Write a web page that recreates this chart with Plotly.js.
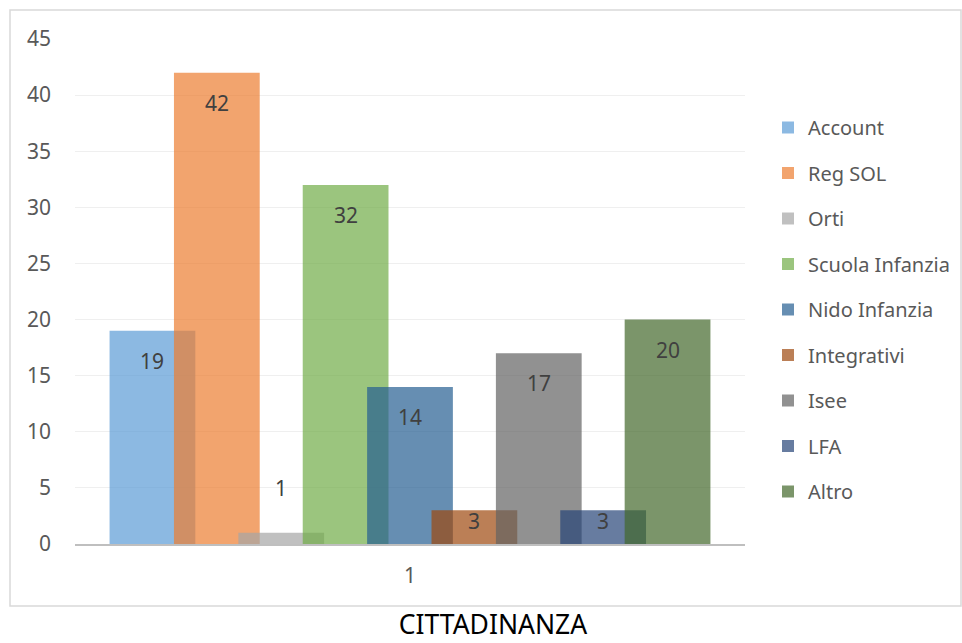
<!DOCTYPE html>
<html>
<head>
<meta charset="utf-8">
<script src="https://cdn.plot.ly/plotly-3.0.1.min.js"></script>
<style>html,body{margin:0;padding:0;background:#fff}#chart{width:962px;height:643px}</style>
</head>
<body>
<div id="chart"></div>
<script>
// Data
const category = ['1'];
const seriesNames = ['Account', 'Reg SOL', 'Orti', 'Scuola Infanzia', 'Nido Infanzia', 'Integrativi', 'Isee', 'LFA', 'Altro'];
const seriesValues = [19, 42, 1, 32, 14, 3, 17, 3, 20];
const chartTitle = 'CITTADINANZA';

// Styles
const colors = [
  'rgba(91,155,213,0.7)', 'rgba(237,125,49,0.7)', 'rgba(165,165,165,0.7)',
  'rgba(112,173,71,0.7)', 'rgba(37,94,145,0.7)', 'rgba(158,72,14,0.7)',
  'rgba(99,99,99,0.7)', 'rgba(38,68,120,0.7)', 'rgba(67,104,43,0.7)'
];
const barWidth = 0.128;
const barStep = 0.0961;
const FONT = 'Noto Sans, Open Sans, sans-serif';
const yMax = 45;
const plotHeightPx = 505;

const n = seriesNames.length;
const centerOf = i => (i - (n - 1) / 2) * barStep;

const traces = seriesNames.map((name, i) => ({
  type: 'bar',
  name: name,
  legendgroup: 'g' + i,
  x: category,
  y: [seriesValues[i]],
  width: barWidth,
  offset: centerOf(i) - barWidth / 2,
  marker: {color: colors[i], line: {width: 0}},
  hoverinfo: 'name+y'
}));

// data labels ("inside end", moved above the bar when it is too short)
const annotations = seriesValues.map((v, i) => {
  const barPx = v * plotHeightPx / yMax;
  const inside = barPx - 25 >= 0;
  const centerBelowTop = Math.min(28, barPx - 25);
  return {
    xref: 'x', yref: 'y',
    x: centerOf(i), y: v,
    text: String(v),
    showarrow: false,
    xanchor: 'center',
    yanchor: inside ? 'top' : 'bottom',
    yshift: inside ? -(centerBelowTop - 14) : 29,
    font: {family: FONT, size: 21, color: '#404040'}
  };
});

const layout = {
  width: 962, height: 643,
  margin: {l: 75, r: 217, t: 39, b: 99},
  paper_bgcolor: '#ffffff',
  plot_bgcolor: '#ffffff',
  barmode: 'overlay',
  font: {family: FONT, color: '#595959'},
  title: {
    text: chartTitle,
    font: {family: FONT, size: 26.5, color: '#000000'},
    xref: 'container', yref: 'container',
    x: 493 / 962, xanchor: 'center',
    y: 1 - 625 / 643, yanchor: 'middle'
  },
  xaxis: {
    type: 'category',
    range: [-0.5, 0.5],
    showgrid: false,
    showline: true, linecolor: '#bfbfbf', linewidth: 2,
    ticks: '',
    tickfont: {family: FONT, size: 21, color: '#595959'},
    ticklabelstandoff: 12,
    zeroline: false
  },
  yaxis: {
    range: [0, yMax],
    dtick: 5,
    showgrid: true, gridcolor: '#efefef', gridwidth: 1,
    showline: false, zeroline: false,
    ticks: '',
    tickfont: {family: FONT, size: 21, color: '#595959'},
    ticklabelstandoff: 23
  },
  showlegend: true,
  legend: {
    xref: 'container', yref: 'container',
    x: 768 / 962, xanchor: 'left',
    y: 1 - 108 / 643, yanchor: 'top',
    font: {family: FONT, size: 20, color: '#595959'},
    tracegroupgap: 16.5,
    itemwidth: 30,
    maxheight: 600,
    bgcolor: 'rgba(0,0,0,0)'
  },
  annotations: annotations,
  shapes: [{
    type: 'rect', xref: 'paper', yref: 'paper',
    x0: (10 - 75) / 670, x1: (961 - 75) / 670,
    y0: (544 - 606) / 505, y1: (544 - 10) / 505,
    line: {color: '#d9d9d9', width: 1.5},
    fillcolor: 'rgba(0,0,0,0)',
    layer: 'below'
  }]
};

Plotly.newPlot('chart', traces, layout, {displayModeBar: false, staticPlot: true});
</script>
</body>
</html>
